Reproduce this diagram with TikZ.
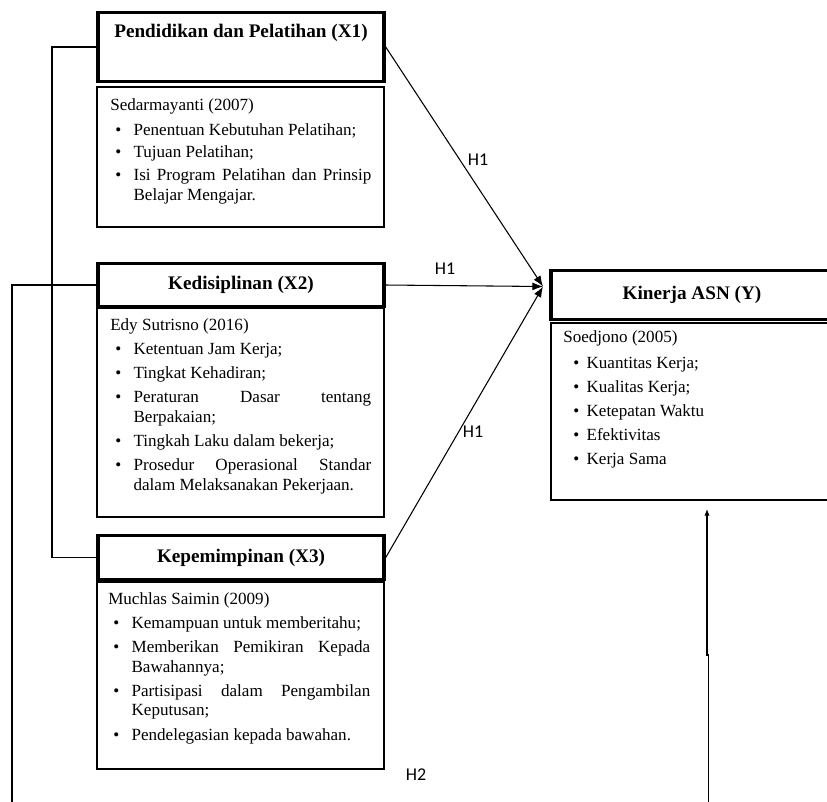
\documentclass[tikz,border=0pt]{standalone}
\usepackage{fontspec}
\setmainfont{Liberation Serif}
\newfontfamily\hfont{Carlito}
\usetikzlibrary{arrows.meta}
\newcommand\bitem[2][3.75pt]{\par\hangindent=17.5pt\hangafter=1\noindent\makebox[17.5pt][l]{\hspace{#1}\textbullet}#2\par}
\newcommand\bsetup[1]{\setlength\parindent{0pt}\setlength\parskip{#1}\hbadness=10000 }
\begin{document}
\begin{tikzpicture}[x=0.75pt,y=-0.75pt,
  hdr/.style={draw, line width=2.6pt, rectangle, inner sep=0pt, minimum width=214.5pt, font=\fontsize{14.4}{16}\selectfont\bfseries},
  htxt/.style={inner sep=0pt, font=\fontsize{14.4}{16}\selectfont\bfseries},
  bodybox/.style={draw, line width=0.8pt, rectangle, inner sep=0pt, minimum width=215.25pt},
  bodytxt/.style={anchor=north west, inner sep=0pt, text width=195.75pt, align=justify, font=\fontsize{12.8}{14.5}\selectfont},
  lbl/.style={inner sep=0pt, font=\hfont\fontsize{13.5}{15}\selectfont},
  conn/.style={line width=0.8pt},
  arr/.style={conn, -{Latex[length=8pt,width=6pt]}},
  uparr/.style={conn, -{Latex[length=5pt,width=4pt]}}]
\clip (0,0) rectangle (827,801);
\fill[white] (0,0) rectangle (827,801);

% X1
\node[bodybox, minimum height=105pt] (x1b) at (240.5,157) {};
\node[hdr, minimum height=51.75pt] (x1) at (241,47) {};
\node[htxt] (x1t) at (241,33) {Pendidikan dan Pelatihan (X1)};
\node[bodytxt] (x1l) at (110,98) {\bsetup{2.7pt}Sedarmayanti (2007)\par\vspace{1.5pt}
\bitem{Penentuan Kebutuhan Pelatihan;}
\bitem{Tujuan Pelatihan;}
\bitem{Isi Program Pelatihan dan Prinsip\linebreak Belajar Mengajar.}};

% X2
\node[bodybox, minimum height=156.75pt] (x2b) at (240.5,412.5) {};
\node[hdr, minimum height=32.25pt] (x2) at (241,285) {Kedisiplinan (X2)};
\node[bodytxt] (x2l) at (110,318) {\bsetup{3.7pt}Edy Sutrisno (2016)
\bitem{Ketentuan Jam Kerja;}
\bitem{Tingkat Kehadiran;}
\bitem{Peraturan Dasar tentang\linebreak Berpakaian;}
\bitem{Tingkah Laku dalam bekerja;}
\bitem{Prosedur Operasional Standar\linebreak dalam Melaksanakan Pekerjaan.}};

% X3
\node[bodybox, minimum height=140.25pt] (x3b) at (240.5,675.5) {};
\node[hdr, minimum height=33pt] (x3) at (241,557.5) {Kepemimpinan (X3)};
\node[bodytxt, text width=196.5pt] (x3l) at (108,592) {\bsetup{3.8pt}Muchlas Saimin (2009)
\bitem{Kemampuan untuk memberitahu;}
\bitem{Memberikan Pemikiran Kepada\linebreak Bawahannya;}
\bitem{Partisipasi dalam Pengambilan\linebreak Keputusan;}
\bitem{Pendelegasian kepada bawahan.}};

% Y
\node[bodybox, minimum width=211.5pt, minimum height=132.75pt] (yb) at (692,411.5) {};
\node[hdr, minimum width=211.5pt, minimum height=36.75pt] (y) at (692,295) {Kinerja ASN (Y)};
\node[bodytxt, text width=190pt] (yl) at (563,330) {\bsetup{3.5pt}Soedjono (2005)\par\vspace{1.5pt}
\bitem[7.5pt]{Kuantitas Kerja;}
\bitem[7.5pt]{Kualitas Kerja;}
\bitem[7.5pt]{Ketepatan Waktu}
\bitem[7.5pt]{Efektivitas}
\bitem[7.5pt]{Kerja Sama}};

% connectors
\coordinate (tgt) at (543,286.5);
\coordinate (lA) at (52,0);
\coordinate (lBend) at (12,812);
\coordinate (ubot) at (708.5,812);
\coordinate (ujog) at (708.5,655);
\coordinate (utop) at (707,509);

\draw[conn] (x1.west) -- (x1.west -| lA) |- (x3.west);
\draw[conn] (x2.west) -| (lBend);
\draw[arr] (x1.east) -- (tgt);
\draw[arr] (x2.east) -- (tgt);
\draw[arr] (x3.east) -- (tgt);
\draw[uparr] (ubot) -- (ujog) -- (utop |- ujog) -- (utop);

% labels
\node[lbl] (h1a) at (478,160) {H1};
\node[lbl] (h1b) at (445,269) {H1};
\node[lbl] (h1c) at (473,432) {H1};
\node[lbl] (h2) at (416,775) {H2};
\end{tikzpicture}
\end{document}
